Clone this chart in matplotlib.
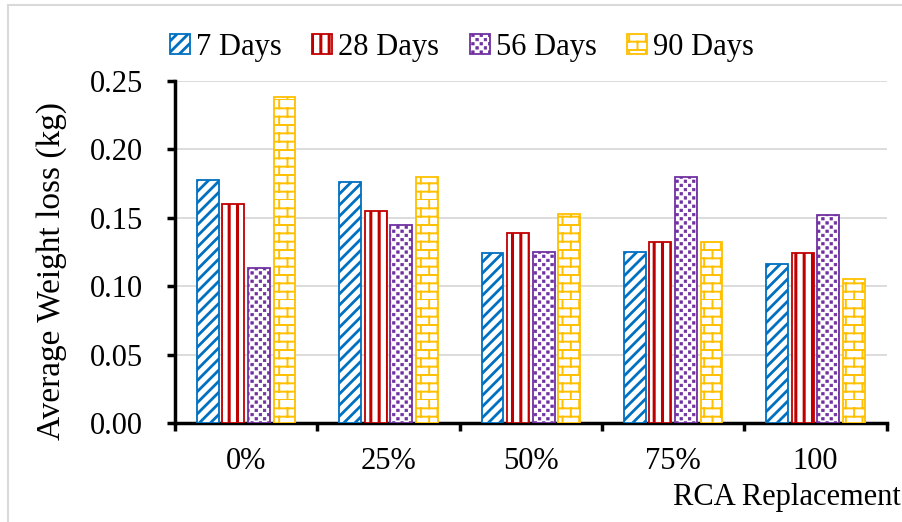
import warnings
import numpy as np
import matplotlib.pyplot as plt
import matplotlib.hatch as mhatch
from matplotlib.path import Path
from matplotlib.patches import Rectangle

warnings.filterwarnings('ignore')
plt.rcParams['font.family'] = ['Liberation Serif', 'DejaVu Serif']

# RCA replacement levels and weight loss per curing age
groups = ['0%', '25%', '50%', '75%', '100']
days_7 = [0.178, 0.176, 0.124, 0.125, 0.116]
days_28 = [0.160, 0.155, 0.139, 0.132, 0.124]
days_56 = [0.113, 0.145, 0.125, 0.180, 0.152]
days_90 = [0.238, 0.180, 0.153, 0.132, 0.105]


# extra fill patterns: wide diagonals ('d'), confetti squares ('s'), bricks ('b')
class WideDiagonal(mhatch.NorthEastHatch):
    def __init__(self, hatch, density):
        self.num_lines = int(hatch.count('d') * density)
        self.num_vertices = (self.num_lines + 1) * 2 if self.num_lines else 0


class Confetti(mhatch.HatchPatternBase):
    def __init__(self, hatch, density):
        self.ncols = int(hatch.count('s') * density)
        self.num_vertices = self.ncols * 2 * self.ncols * 5

    def set_vertices_and_codes(self, vertices, codes):
        n = self.ncols
        half = 0.15 / n
        k = 0
        for r in range(2 * n):
            yc = (r + 0.5) / (2 * n)
            for c in range(n):
                xc = (c + 0.25 + 0.5 * (r % 2)) / n
                vertices[k:k + 5] = [(xc - half, yc - half), (xc + half, yc - half),
                                     (xc + half, yc + half), (xc - half, yc + half),
                                     (xc - half, yc - half)]
                codes[k:k + 5] = [Path.MOVETO, Path.LINETO, Path.LINETO,
                                  Path.LINETO, Path.CLOSEPOLY]
                k += 5


class Brick(mhatch.HatchPatternBase):
    def __init__(self, hatch, density):
        self.nrows = int(hatch.count('b') * density)
        self.num_vertices = self.nrows * 2 + self.nrows * (self.nrows // 2) * 2

    def set_vertices_and_codes(self, vertices, codes):
        n = self.nrows
        h = 1.0 / n
        k = 0
        for i in range(n):
            vertices[k:k + 2] = [(0.0, i * h), (1.0, i * h)]
            codes[k:k + 2] = [Path.MOVETO, Path.LINETO]
            k += 2
            for j in range(n // 2):
                xv = (2 * j + (i % 2)) * h + h / 2
                vertices[k:k + 2] = [(xv, i * h), (xv, (i + 1) * h)]
                codes[k:k + 2] = [Path.MOVETO, Path.LINETO]
                k += 2


mhatch._hatch_types.extend([WideDiagonal, Confetti, Brick])

series = [('7 Days', days_7, '#0070C0', 'ddd'),
          ('28 Days', days_28, '#C00000', '||'),
          ('56 Days', days_56, '#7030A0', 'ss'),
          ('90 Days', days_90, '#FFC000', 'bb')]
hatch_lw = [2.0, 2.2, 0.5, 1.4]

fig = plt.figure(figsize=(9.02, 5.22), dpi=100)
ax = fig.add_axes([0.194, 0.1897, 0.789, 0.655])

# outer chart border
fig.patches.append(Rectangle((8 / 902, -0.05), 1.0, 0.05 + 1 - 5 / 522,
                             transform=fig.transFigure, fill=False,
                             edgecolor='#D9D9D9', linewidth=1.5))

x = np.arange(len(groups))
step = 0.18
width = 0.153
for i, (label, vals, col, hatch) in enumerate(series):
    bars = ax.bar(x + (i - 1.5) * step, vals, width, facecolor='white',
                  edgecolor=col, hatch=hatch, linewidth=1.3, label=label,
                  zorder=3)
    for b in bars:
        b.set_hatch_linewidth(hatch_lw[i])

ax.set_xlim(-0.5, len(groups) - 0.5)
ax.set_ylim(0, 0.25)
yt = np.arange(0, 0.251, 0.05)
ax.set_yticks(yt)
ax.set_yticklabels([f'{v:.2f}' for v in yt])
ax.set_xticks(x)
ax.set_xticklabels(groups)
ax.set_xticks(np.arange(-0.5, len(groups), 1.0), minor=True)
ax.tick_params(axis='x', which='major', length=0, pad=17, labelsize=22)
ax.tick_params(axis='x', which='minor', length=6, width=2.5, direction='out')
ax.tick_params(axis='y', length=6, width=2.5, direction='out', pad=17,
               labelsize=22)
ax.yaxis.grid(True, color='#D9D9D9', linewidth=1.3, zorder=0)
ax.set_axisbelow(True)

for s in ['top', 'right']:
    ax.spines[s].set_visible(False)
for s in ['left', 'bottom']:
    ax.spines[s].set_linewidth(2.5)

ax.set_ylabel('Average Weight loss (kg)', fontsize=24)
ax.yaxis.set_label_coords(-0.152, 0.445)
fig.text(0.999, 1 - 497 / 522, 'RCA Replacement', ha='right', va='center',
         fontsize=22)

leg = ax.legend(loc='center left', bbox_to_anchor=(170 / 902, 1 - 47 / 522),
                bbox_transform=fig.transFigure, ncol=4, frameon=False,
                fontsize=22, handlelength=0.65, handleheight=0.65,
                handletextpad=0.2, columnspacing=1.0, borderpad=0,
                borderaxespad=0)
for h, lw in zip(leg.legend_handles, hatch_lw):
    h.set_hatch_linewidth(lw)

fig.savefig('out.png', dpi=100)
